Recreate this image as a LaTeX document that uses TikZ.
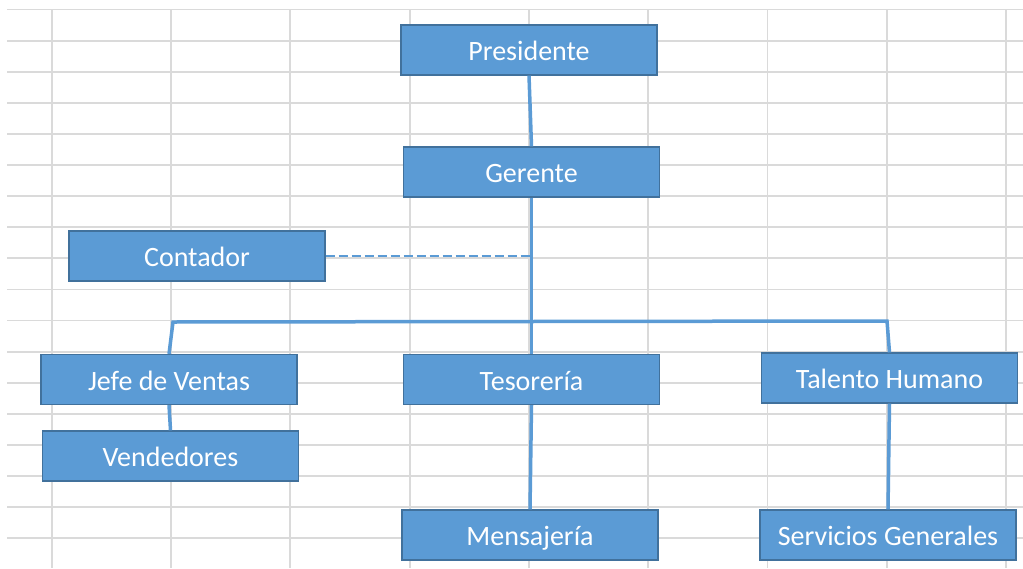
\documentclass[tikz,border=0pt]{standalone}
\usepackage{fontspec}
\setmainfont{Carlito}
\definecolor{cajaazul}{HTML}{5B9BD5}
\definecolor{bordeazul}{HTML}{41719C}
\definecolor{rejilla}{HTML}{DADADA}
\tikzset{
  cargo/.style={draw=bordeazul, fill=cajaazul, line width=1.2pt, minimum width=256pt,
    minimum height=50pt, inner sep=0pt, text height=23pt, text depth=2pt,
    text=white, font=\fontsize{28}{31}\selectfont},
  linea/.style={draw=cajaazul, line width=3.5pt},
}
\begin{document}
\begin{tikzpicture}[x=1pt, y=-1pt]
    \useasboundingbox (0,0) rectangle (1023,568);
    % cuadricula de la hoja
    \foreach \k in {0,...,17}
      \draw [rejilla, line width=1.8pt] (7,9.5+31.1*\k) -- (1023,9.5+31.1*\k);
    \foreach \k in {0,...,8}
      \draw [rejilla, line width=1.8pt] (51.7+119.3*\k,9.5) -- (51.7+119.3*\k,568);

    \node [cargo] (presidente) at (529,50) {Presidente};
    \node [cargo] (gerente) at (531.5,172) {Gerente};
    \node [cargo] (contador) at (197,256) {Contador};
    \node [cargo] (jefe) at (169,379.5) {Jefe de Ventas};
    \node [cargo] (vendedores) at (170.5,456) {Vendedores};
    \node [cargo] (tesoreria) at (531.5,379.5) {Tesorería};
    \node [cargo] (mensajeria) at (530,535) {Mensajería};
    \node [cargo] (talento) at (889.5,378) {Talento Humano};
    \node [cargo] (servicios) at (888,535) {Servicios Generales};

    \coordinate (barraI) at (173,322);
    \coordinate (barraD) at (887,321);
    \coordinate (rayaFin) at (531,256);

    \draw [linea] (presidente.south) -- (gerente.north);
    \draw [linea] (gerente.south) -- (tesoreria.north);
    \draw [linea] (jefe.north) -- (barraI) -- (barraD) -- (talento.north);
    \draw [linea, line width=2.6pt, dash pattern=on 9pt off 4pt] (contador.east) -- (rayaFin);

    \draw [linea] (jefe.south) -- (vendedores.north);
    \draw [linea] (tesoreria.south) -- (mensajeria.north);
    \draw [linea] (talento.south) -- (servicios.north);
\end{tikzpicture}
\end{document}
